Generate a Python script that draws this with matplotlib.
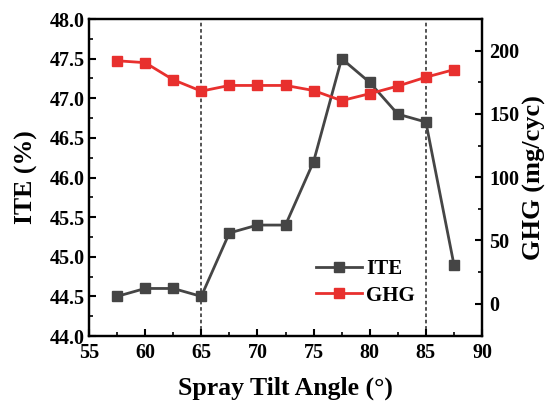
import matplotlib
matplotlib.use('Agg')
import matplotlib.pyplot as plt
import numpy as np

plt.rcParams['font.family'] = ['Liberation Serif', 'DejaVu Serif']
plt.rcParams['font.weight'] = 'bold'

angle = [57.5, 60, 62.5, 65, 67.5, 70, 72.5, 75, 77.5, 80, 82.5, 85, 87.5]
ite = [44.5, 44.6, 44.6, 44.5, 45.3, 45.4, 45.4, 46.2, 47.5, 47.2, 46.8, 46.7, 44.9]
ghg = [192, 190.5, 177, 168, 172.5, 172.5, 172.5, 168.5, 160.5, 166, 172, 179, 185]
vlines = [65, 85]

gray = '#454545'
red = '#e8302e'

fig = plt.figure(figsize=(5.51, 4.07), dpi=100)
ax = fig.add_axes([0.1615, 0.1744, 0.7133, 0.7789])
ax2 = ax.twinx()

for v in vlines:
    ax.axvline(v, color=gray, ls=(0, (2, 1.5)), lw=1.3, zorder=1)

l1, = ax.plot(angle, ite, color=gray, marker='s', ms=7, lw=2, label='ITE', zorder=3)
l2, = ax2.plot(angle, ghg, color=red, marker='s', ms=7, lw=2, label='GHG', zorder=3)

ax.set_xlim(55, 90)
ax.set_ylim(44.0, 48.0)
ax2.set_ylim(-25.5, 225)
ax.set_xticks(np.arange(55, 91, 5))
ax.set_xticks(np.arange(57.5, 90, 5), minor=True)
ax.set_yticks(np.arange(44.0, 48.01, 0.5))
ax.set_yticks(np.arange(44.25, 48, 0.5), minor=True)
ax2.set_yticks([0, 50, 100, 150, 200])
ax2.set_yticks([25, 75, 125, 175], minor=True)
ax.yaxis.set_major_formatter(matplotlib.ticker.FormatStrFormatter('%.1f'))

for a in (ax, ax2):
    a.tick_params(which='major', direction='in', length=5, width=1.5, labelsize=14.5, pad=3)
    a.tick_params(which='minor', direction='in', length=3, width=1.2)
    for s in a.spines.values():
        s.set_linewidth(1.6)
ax.tick_params(axis='x', pad=5)
ax.tick_params(top=False, right=False, which='both')
ax2.tick_params(axis='y', pad=5)

ax.set_xlabel('Spray Tilt Angle (°)', fontsize=18.5, fontweight='bold', labelpad=10)
ax.set_ylabel('ITE (%)', fontsize=18.5, fontweight='bold', labelpad=8)
ax2.set_ylabel('GHG (mg/cyc)', fontsize=19, fontweight='bold', labelpad=3)

ax.legend(handles=[l1, l2], loc='lower left', bbox_to_anchor=(0.54, 0.05), frameon=False,
          fontsize=15, handlelength=2.2, handletextpad=0.2, borderpad=0.2, labelspacing=0.3)

fig.savefig('out.png', dpi=100)
